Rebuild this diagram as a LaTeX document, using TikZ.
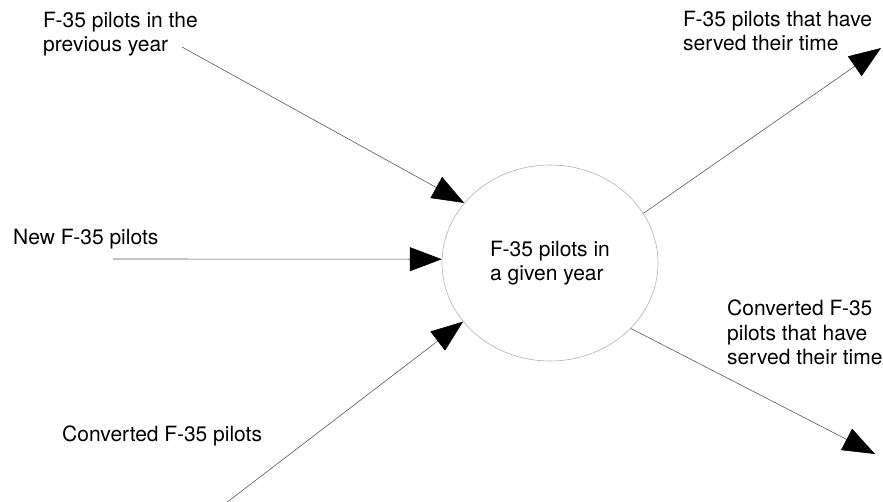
\documentclass[tikz,border=0pt]{standalone}
\usepackage{fontspec}
\setmainfont{TeX Gyre Heros}
\usetikzlibrary{arrows.meta,shapes.geometric}
\begin{document}
\begin{tikzpicture}[x=1pt,y=-1pt,
  lbl/.style={anchor=base west, inner sep=0pt, align=left, font=\fontsize{21}{24}\selectfont},
  flow/.style={draw=black!65, line width=0.6pt, -{Triangle[length=32pt,width=24pt,color=black]}},
  stock/.style={ellipse, draw=black!30, line width=0.6pt, minimum width=216pt, minimum height=196pt, inner sep=0pt, align=left, font=\fontsize{21}{24}\selectfont}]
\useasboundingbox (0,0) rectangle (883,502);
\node[stock] (s) at (550,263) {F-35 pilots in\\a given year};
\coordinate (p1) at (182,47);
\coordinate (p2) at (113,259);
\coordinate (p3) at (226,503);
\coordinate (q1) at (881,48);
\coordinate (q2) at (875,454);
\draw[flow] (p1) -- (s.145.4);
\draw[flow] (p2) -- (s.178);
\draw[flow] (p3) -- (s.214.1);
\draw[flow] (s.28.5) -- (q1);
\draw[flow] (s.-39.5) -- (q2);
\node[lbl] (l1) at (43,52) {F-35 pilots in the\\previous year};
\node[lbl] (l2) at (13,245) {New F-35 pilots};
\node[lbl] (l3) at (62,441) {Converted F-35 pilots};
\node[lbl] (l4) at (683,51) {F-35 pilots that have\\served their time};
\node[lbl] (l5) at (727,364) {Converted F-35\\pilots that have\\served their time};
\end{tikzpicture}
\end{document}
